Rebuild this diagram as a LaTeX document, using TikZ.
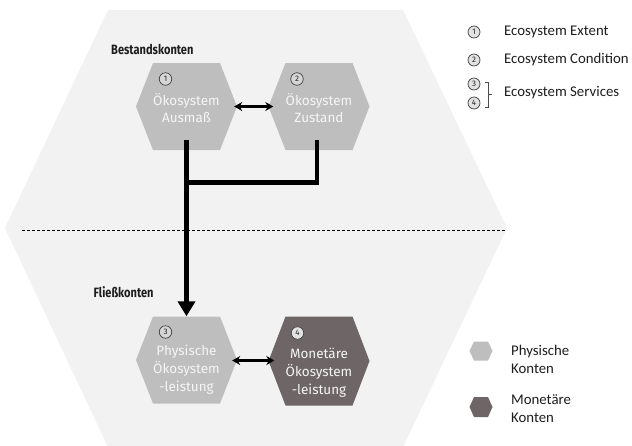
\documentclass[tikz,border=0pt]{standalone}
\usepackage{fontspec}
\usepackage{graphicx}
\setmainfont{Fira Sans}
\newfontfamily\legfont{Carlito}
\usetikzlibrary{arrows.meta,calc}
\definecolor{bgbig}{HTML}{F2F2F2}
\definecolor{phys}{HTML}{BEBEBE}
\definecolor{mon}{HTML}{6E6666}
\definecolor{ntext}{HTML}{F5F5F5}
\definecolor{circfill}{HTML}{D6D6D6}
\definecolor{legcirc}{HTML}{E2E2E2}
\definecolor{darktext}{HTML}{1E1E1E}
\newcommand{\myhex}[5]{\fill[#5] ($(#1)+(-#2,0)$) -- ($(#1)+({-#2+#4},{-#3})$) -- ($(#1)+({#2-#4},{-#3})$) -- ($(#1)+(#2,0)$) -- ($(#1)+({#2-#4},#3)$) -- ($(#1)+({-#2+#4},#3)$) -- cycle;}
\newcommand{\narrow}[1]{\scalebox{0.82}[1]{#1}}
\tikzset{
  hexnode/.style={minimum width=101pt,minimum height=87pt,inner sep=0pt},
  hextext/.style={align=center,text=ntext,font=\fontsize{13.5}{17.8}\selectfont,inner sep=0pt},
  numcirc/.style={circle,draw=black!75,fill=circfill,line width=0.7pt,inner sep=0pt,minimum size=12.5pt,text=black!85,font=\fontsize{8}{8}\selectfont},
  legcircle/.style={numcirc,fill=legcirc,minimum size=12pt},
  sectlabel/.style={anchor=west,text=darktext,font=\bfseries\fontsize{13.5}{15}\selectfont,inner sep=0pt},
  legtext/.style={anchor=west,text=darktext,align=left,font=\legfont\fontsize{14.8}{18}\selectfont,inner sep=0pt},
  bigconn/.style={line width=4.6pt,line join=miter},
  dblarrow/.style={line width=2.2pt,{Stealth[length=8pt,width=9pt]}-{Stealth[length=8pt,width=9pt]}}
}
\begin{document}
\begin{tikzpicture}[x=1pt,y=-1pt]
\useasboundingbox (0,0) rectangle (632,445);
\fill[white] (0,0) rectangle (632,445);
% big background hexagon
\fill[bgbig] (108,10) -- (403,10) -- (507,228) -- (403,447) -- (108,447) -- (5,228) -- cycle;
% dashed separator
\coordinate (dl) at (22,230);
\coordinate (dr) at (505,230);
\draw[line width=0.8pt,dash pattern=on 3pt off 2pt] (dl) -- (dr);
% centres
\coordinate (p1) at (186.5,106.5);
\coordinate (p2) at (319,106.5);
\coordinate (p3) at (186.5,360);
\coordinate (p4) at (319,361);
\myhex{p1}{50.5}{43.5}{17}{phys}
\myhex{p2}{50.5}{43.5}{17}{phys}
\myhex{p3}{50.5}{43.5}{17}{phys}
\myhex{p4}{50.5}{44.5}{17}{mon}
\node[hexnode] (n1) at (p1) {};
\node[hexnode] (n2) at (p2) {};
\node[hexnode] (n3) at (p3) {};
\node[hexnode] (n4) at (p4) {};
% texts
\node[hextext] (t1) at (186.5,108) {Ökosystem\\Ausmaß};
\node[hextext] (t2) at (319,108) {Ökosystem\\Zustand};
\node[hextext] (t3) at (186.5,369.5) {Physische\\Ökosystem\\-leistung};
\node[hextext] (t4) at (319,372.5) {Monetäre\\Ökosystem\\-leistung};
\node[numcirc] (c1) at (165.5,79) {1};
\node[numcirc] (c2) at (297,79) {2};
\node[numcirc] (c3) at (165.5,332) {3};
\node[numcirc,fill=legcirc] (c4) at (297.5,333) {4};
% section labels
\node[sectlabel] (bk) at (111,49.5) {\narrow{Bestandskonten}};
\node[sectlabel] (fk) at (93.5,292) {\narrow{Fließkonten}};
% connectors
\draw[bigconn,-{Triangle[width=17pt,length=15pt]}] ([yshift=10pt]n1.south) -- (n3.north);
\draw[bigconn] ([yshift=10pt,xshift=-2pt]n2.south) |- ([yshift=-32pt]n1.south);
\draw[dblarrow,shorten <=-3pt,shorten >=-5pt] (n1.east) -- (n2.west);
\draw[dblarrow,shorten <=-5pt,shorten >=-6pt] ([yshift=-0.5pt]n3.east) -- ([yshift=0.5pt]n4.west);
% legend top
\node[legcircle] (l1) at (474,32) {1};
\node[legcircle] (l2) at (474,60) {2};
\node[legcircle] (l3) at (474,84) {3};
\node[legcircle] (l4) at (474,103) {4};
\node[legtext] (e1) at (504,32) {Ecosystem Extent};
\node[legtext] (e2) at (504,60) {Ecosystem Condition};
\node[legtext] (e3) at (504,93) {Ecosystem Services};
\coordinate (bt) at (485,82);
\coordinate (bb) at (485,107);
\draw[line width=0.6pt,black!70] (bt) -- ++(3,0) |- (bb);
\draw[line width=0.6pt,black!70] (488,94.5) -- (492,94.5);
% legend bottom
\coordinate (q1) at (481,351);
\coordinate (q2) at (481,407);
\myhex{q1}{11.5}{9.5}{4.5}{phys}
\myhex{q2}{11.5}{10}{4.5}{mon}
\node[legtext] (k1) at (511,359.5) {Physische\\Konten};
\node[legtext] (k2) at (511,408.5) {Monetäre\\Konten};
\end{tikzpicture}
\end{document}
